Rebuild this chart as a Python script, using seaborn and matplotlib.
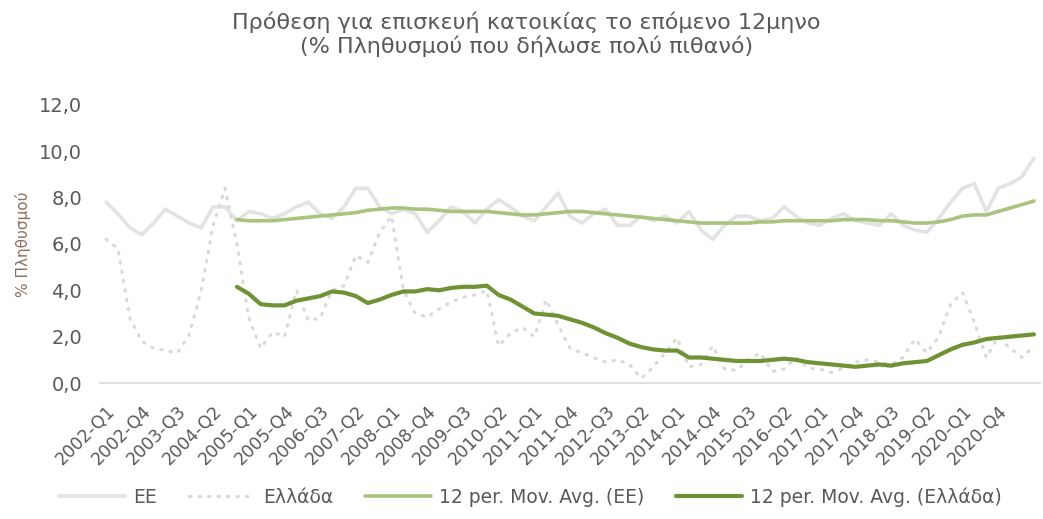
import numpy as np
import pandas as pd
import seaborn as sns
import matplotlib.pyplot as plt
from matplotlib import transforms

sns.set_theme(style="white")
plt.rcParams['font.family'] = ['DejaVu Sans']

# Quarterly survey data, 2002-Q1 .. 2021-Q3
quarters = [f"{y}-Q{q}" for y in range(2002, 2022) for q in range(1, 5)][:79]

ee = [7.8, 7.3, 6.7, 6.4, 6.9, 7.5, 7.2, 6.9, 6.7, 7.6,
      7.6, 7.0, 7.4, 7.3, 7.1, 7.3, 7.6, 7.8, 7.3, 7.1,
      7.6, 8.4, 8.4, 7.6, 7.3, 7.5, 7.3, 6.5, 7.0, 7.6,
      7.4, 6.9, 7.5, 7.9, 7.6, 7.2, 7.0, 7.6, 8.2, 7.2,
      6.9, 7.3, 7.5, 6.8, 6.8, 7.2, 7.0, 7.2, 6.9, 7.4,
      6.6, 6.2, 6.8, 7.2, 7.2, 7.0, 7.1, 7.6, 7.2, 6.9,
      6.8, 7.1, 7.3, 7.0, 6.9, 6.8, 7.3, 6.8, 6.6, 6.5,
      7.1, 7.8, 8.4, 8.6, 7.4, 8.4, 8.6, 8.9, 9.7]

greece = [6.2, 5.8, 2.8, 1.8, 1.5, 1.4, 1.3, 2.1, 4.0, 6.8,
          8.4, 6.0, 2.8, 1.5, 2.2, 2.0, 4.0, 2.7, 2.8, 4.0,
          4.2, 5.5, 5.2, 6.5, 7.2, 4.0, 3.0, 2.85, 3.2, 3.5,
          3.7, 3.8, 4.0, 1.6, 2.15, 2.4, 2.0, 3.6, 2.5, 1.5,
          1.3, 1.1, 0.9, 1.0, 0.8, 0.2, 0.7, 1.3, 1.95, 0.7,
          0.8, 1.6, 0.6, 0.55, 1.0, 1.3, 0.5, 0.6, 1.1, 0.65,
          0.6, 0.45, 0.65, 0.9, 1.0, 0.9, 0.8, 1.1, 1.9, 1.3,
          2.0, 3.4, 3.9, 2.6, 1.1, 2.0, 1.5, 1.1, 1.6]

# 12-period moving averages as drawn (start at 2004-Q4)
ma_start = 11
ma_ee = [7.05, 7.0, 7.0, 7.0, 7.05, 7.1, 7.15, 7.2, 7.25, 7.3,
         7.35, 7.45, 7.5, 7.55, 7.55, 7.5, 7.5, 7.45, 7.4, 7.4,
         7.4, 7.4, 7.35, 7.3, 7.25, 7.25, 7.3, 7.35, 7.4, 7.4,
         7.35, 7.3, 7.25, 7.2, 7.15, 7.1, 7.05, 7.0, 6.95, 6.9,
         6.9, 6.9, 6.9, 6.9, 6.95, 6.95, 7.0, 7.0, 7.0, 7.0,
         7.0, 7.05, 7.05, 7.05, 7.0, 7.0, 6.95, 6.9, 6.9, 6.95,
         7.05, 7.2, 7.25, 7.25, 7.4, 7.55, 7.7, 7.85]

ma_greece = [4.15, 3.85, 3.4, 3.35, 3.35, 3.55, 3.65, 3.75, 3.95, 3.9,
             3.75, 3.45, 3.6, 3.8, 3.95, 3.95, 4.05, 4.0, 4.1, 4.15,
             4.15, 4.2, 3.8, 3.6, 3.3, 3.0, 2.95, 2.9, 2.75, 2.6,
             2.4, 2.15, 1.95, 1.7, 1.55, 1.45, 1.4, 1.4, 1.1, 1.1,
             1.05, 1.0, 0.95, 0.95, 0.95, 1.0, 1.05, 1.0, 0.9, 0.85,
             0.8, 0.75, 0.7, 0.75, 0.8, 0.75, 0.85, 0.9, 0.95, 1.2,
             1.45, 1.65, 1.75, 1.9, 1.95, 2.0, 2.05, 2.1]

pos = np.arange(len(quarters))
df = pd.DataFrame({"pos": pos, "ee": ee, "greece": greece})
df["ma_ee"] = [np.nan] * ma_start + ma_ee
df["ma_greece"] = [np.nan] * ma_start + ma_greece

fig = plt.figure(figsize=(10.43, 5.19), dpi=100)
ax = fig.add_axes([0.096, 0.262, 0.901, 0.536])

sns.lineplot(data=df, x="pos", y="ee", ax=ax, color="#e3e3e3", lw=2.6,
             label="EE")
sns.lineplot(data=df, x="pos", y="greece", ax=ax, color="#d9d9d9", lw=2.2,
             linestyle=(0, (0.5, 2.6)), dash_capstyle="round", label="Ελλάδα")
sns.lineplot(data=df, x="pos", y="ma_ee", ax=ax, color="#a9c47f", lw=2.6,
             label="12 per. Mov. Avg. (EE)")
sns.lineplot(data=df, x="pos", y="ma_greece", ax=ax, color="#6f9234", lw=3.0,
             label="12 per. Mov. Avg. (Ελλάδα)")

ax.set_xlim(-0.5, len(quarters) - 0.5)
ax.set_ylim(0, 12)
yt = np.arange(0, 12.1, 2)
ax.set_yticks(yt)
ax.set_yticklabels([f"{v:.1f}".replace(".", ",") for v in yt],
                   fontsize=14, color="#595959")
ticks = pos[:76:3]
ax.set_xticks(ticks)
ax.set_xticklabels([quarters[i] for i in ticks], rotation=45, ha="right",
                   rotation_mode="anchor", fontsize=12.5, color="#595959")
shift = transforms.ScaledTranslation(0.09, 0, fig.dpi_scale_trans)
for lab in ax.get_xticklabels():
    lab.set_transform(lab.get_transform() + shift)
ax.tick_params(axis="x", length=0, pad=14)
ax.tick_params(axis="y", length=0, pad=13)
ax.set_xlabel("")
ax.set_ylabel("% Πληθυσμού", fontsize=11, color="#8b6f5a", labelpad=6)

for s in ["top", "right", "left"]:
    ax.spines[s].set_visible(False)
ax.spines["bottom"].set_color("#d9d9d9")
ax.spines["bottom"].set_linewidth(1.2)

fig.suptitle("Πρόθεση για επισκευή κατοικίας το επόμενο 12μηνο\n"
             "(% Πληθυσμού που δήλωσε πολύ πιθανό)",
             fontsize=16, color="#595959", y=0.978, x=0.505, linespacing=1.15)

ax.legend(loc="center", bbox_to_anchor=(0.458, -0.41), ncol=4, frameon=False,
          fontsize=13.5, handlelength=3.5, handletextpad=0.45,
          columnspacing=1.7, labelcolor="#595959")

fig.savefig("out.png", dpi=100)
